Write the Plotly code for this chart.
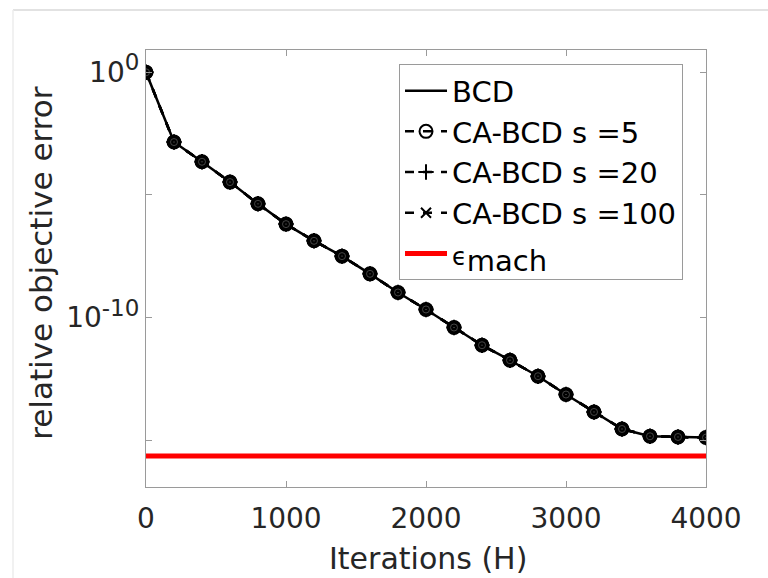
import plotly.graph_objects as go

iterations = [0, 200, 400, 600, 800, 1000, 1200, 1400, 1600, 1800, 2000,
              2200, 2400, 2600, 2800, 3000, 3200, 3400, 3600, 3800, 4000]
log_err = [0.0, -2.845, -3.649, -4.478, -5.363, -6.192, -6.873, -7.498, -8.220,
           -8.980, -9.673, -10.408, -11.131, -11.743, -12.396, -13.143, -13.853,
           -14.547, -14.845, -14.873, -14.898]
bcd_err = [10 ** v for v in log_err]
ca5_err = [10 ** v for v in log_err]
ca20_err = [10 ** v for v in log_err]
ca100_err = [10 ** v for v in log_err]
eps_mach = 2.220446049250313e-16
eps_x = [0, 4000]

x_ticks = [0, 1000, 2000, 3000, 4000]
y_tickvals = [1, 1e-5, 1e-10, 1e-15]
y_ticktext = ["10<sup><span style='font-size:23px'>0</span></sup>", "",
              "10<sup><span style='font-size:23px'>-10</span></sup>", ""]
x_title = "Iterations (H)"
y_title = "relative objective error"

FONT = "DejaVu Sans"
TXT = "#262626"
AX = "#9a9a9a"

fig = go.Figure()
fig.add_trace(go.Scatter(x=iterations, y=bcd_err, mode="lines", name="BCD",
                         line=dict(color="black", width=2.5)))
fig.add_trace(go.Scatter(x=iterations, y=ca5_err, mode="lines+markers", name="CA-BCD s =5",
                         line=dict(color="black", width=2.5, dash="dash"),
                         marker=dict(symbol="circle-open", size=13, color="black",
                                     line=dict(width=2, color="black"))))
fig.add_trace(go.Scatter(x=iterations, y=ca20_err, mode="lines+markers", name="CA-BCD s =20",
                         line=dict(color="black", width=2.5, dash="dash"),
                         marker=dict(symbol="cross-thin", size=11, color="black",
                                     line=dict(width=2, color="black"))))
fig.add_trace(go.Scatter(x=iterations, y=ca100_err, mode="lines+markers", name="CA-BCD s =100",
                         line=dict(color="black", width=2.5, dash="dash"),
                         marker=dict(symbol="x-thin", size=10, color="black",
                                     line=dict(width=2, color="black"))))
# overlapping thick markers look like dark discs in the reference
fig.add_trace(go.Scatter(x=iterations, y=ca5_err, mode="markers", showlegend=False,
                         hoverinfo="skip",
                         marker=dict(symbol="circle", size=14, color="black",
                                     line=dict(width=0))))
fig.add_trace(go.Scatter(x=iterations, y=ca20_err, mode="markers", showlegend=False,
                         hoverinfo="skip",
                         marker=dict(symbol="circle-open-dot", size=7, color="#555555",
                                     line=dict(width=0.8, color="#555555"))))
fig.add_trace(go.Scatter(x=eps_x, y=[eps_mach, eps_mach], mode="lines",
                         name="<span style='font-size:24px'>ϵ</span><sub><span style='font-size:29px'>mach</span></sub>",
                         line=dict(color="#ff0000", width=5)))

# light frame lines of the embedded picture
fig.add_shape(type="line", xref="paper", yref="paper", x0=-0.2375, x1=1.2, y0=1.0916, y1=1.0916,
              line=dict(color="#d9d9d9", width=1.5))
fig.add_shape(type="line", xref="paper", yref="paper", x0=-0.2375, x1=-0.2375, y0=1.0916, y1=-0.25,
              line=dict(color="#ececec", width=1.5))

fig.add_annotation(text=x_title, xref="paper", yref="paper", x=0.504, y=-0.1633,
                   xanchor="center", yanchor="middle", showarrow=False,
                   font=dict(family=FONT, size=30, color=TXT))
fig.add_annotation(text=y_title, xref="paper", yref="paper", x=-0.189, y=0.5134,
                   xanchor="center", yanchor="middle", showarrow=False, textangle=-90,
                   font=dict(family=FONT, size=31, color=TXT))

fig.update_layout(
    width=768, height=578,
    margin=dict(l=146, r=62, t=50, b=91),
    paper_bgcolor="white", plot_bgcolor="white",
    font=dict(family=FONT, size=28, color=TXT),
    showlegend=True,
    legend=dict(x=0.4518, y=0.9673, xanchor="left", yanchor="top",
                bgcolor="white", bordercolor=AX, borderwidth=1,
                font=dict(family=FONT, size=29, color="black"),
                itemwidth=42, tracegroupgap=0),
    xaxis=dict(range=[0, 4000], tickvals=x_ticks, ticks="inside", ticklen=6,
               tickcolor=AX, showline=True, linecolor=AX, linewidth=1, mirror="ticks",
               showgrid=False, zeroline=False, ticklabelstandoff=6, automargin=False,
               tickfont=dict(family=FONT, size=28, color=TXT)),
    yaxis=dict(type="log", range=[-16.914, 0.91], tickvals=y_tickvals, ticktext=y_ticktext,
               ticks="inside", ticklen=6, tickcolor=AX, showline=True, linecolor=AX,
               linewidth=1, mirror="ticks", showgrid=False, zeroline=False, automargin=False,
               tickfont=dict(family=FONT, size=28, color=TXT)),
)

fig.write_html("out.html")
